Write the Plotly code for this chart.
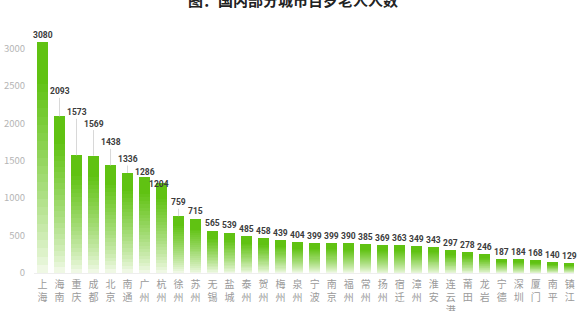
import plotly.graph_objects as go

cities = ["上海", "海南", "重庆", "成都", "北京", "南通", "广州", "杭州", "徐州", "苏州",
          "无锡", "盐城", "泰州", "贺州", "梅州", "泉州", "宁波", "南京", "福州", "常州",
          "扬州", "宿迁", "漳州", "淮安", "连云港", "莆田", "龙岩", "宁德", "深圳", "厦门",
          "南平", "镇江"]
counts = [3080, 2093, 1573, 1569, 1438, 1336, 1286, 1204, 759, 715,
          565, 539, 485, 458, 439, 404, 399, 399, 390, 385,
          369, 363, 349, 343, 297, 278, 246, 187, 184, 168,
          140, 129]
title_text = "图：国内部分城市百岁老人人数"
y_ticks = [0, 500, 1000, 1500, 2000, 2500, 3000]

FONT = "Noto Sans CJK SC"
W, H = 577, 311
ML, MR, MT, MB = 34, 3, 26, 38

fig = go.Figure()

# gradient bars: stacked slices of each bar, pale at the bottom, green at the top
N = 28
top = (96, 194, 18)
bot = (246, 251, 238)
x_idx = list(range(len(cities)))
for k in range(N):
    t = (k + 0.5) / N  # 0 bottom -> 1 top
    w = min(1.0, t ** 0.8 * 1.15)
    col = tuple(int(round(bot[c] + (top[c] - bot[c]) * w)) for c in range(3))
    fig.add_trace(go.Bar(
        x=x_idx, y=[v / N for v in counts],
        marker=dict(color="rgb(%d,%d,%d)" % col, line=dict(width=0)),
        showlegend=False, hoverinfo="skip",
    ))

# value labels (pixel offsets of label centre above bar top)
offsets = {0: -7, 1: -25, 2: -43, 3: -32, 4: -23, 5: -14, 6: -5, 7: 1, 8: -14, 9: -8}
xshifts = {7: -3}
lab_font = dict(family="Roboto", size=8.5, color="#3c3c3c", weight=700)
for i, v in enumerate(counts):
    off = offsets.get(i, -7.5)
    if off <= -12:
        fig.add_annotation(x=i, y=v, text=str(v), showarrow=True, arrowhead=0,
                           arrowwidth=1, arrowcolor="#d8d8d8", ax=0, ay=off,
                           standoff=0, startstandoff=0, font=lab_font)
    else:
        fig.add_annotation(x=i, y=v, text=str(v), showarrow=False, yanchor="middle",
                           yshift=-off, xshift=xshifts.get(i, 0), font=lab_font)

# title (partly cut off at the top of the page)
pw = W - ML - MR
fig.add_annotation(xref="paper", yref="paper", x=(293 - ML) / pw, y=1, yshift=MT + 1,
                   text="<b>" + title_text + "</b>", showarrow=False, yanchor="middle",
                   font=dict(family=FONT, size=15, color="#222222"))

fig.update_layout(
    width=W, height=H,
    margin=dict(l=ML, r=MR, t=MT, b=MB, pad=0),
    barmode="stack", bargap=0.38,
    plot_bgcolor="white", paper_bgcolor="white",
    font=dict(family=FONT),
)
fig.update_xaxes(
    range=[-0.5, 31.25], automargin=False,
    tickmode="array", tickvals=x_idx,
    ticktext=["<br>".join(list(c)) for c in cities],
    tickfont=dict(family=FONT, size=10, color="#9a9a9a"),
    showgrid=False, zeroline=False, showline=True, linecolor="#eeeeee", linewidth=1,
    ticks="outside", ticklen=2, tickcolor="rgba(0,0,0,0)", tickangle=0,
)
fig.update_yaxes(
    range=[0, 3300], automargin=False,
    tickmode="array", tickvals=y_ticks,
    tickfont=dict(family=FONT, size=9.5, color="#b5b5b5"),
    showgrid=False, zeroline=False, showline=False,
    ticks="outside", ticklen=6, tickcolor="rgba(0,0,0,0)",
)

fig.write_html("out.html", config={"displayModeBar": False},
               post_script="document.body.style.margin='0';document.body.style.overflow='hidden';")
